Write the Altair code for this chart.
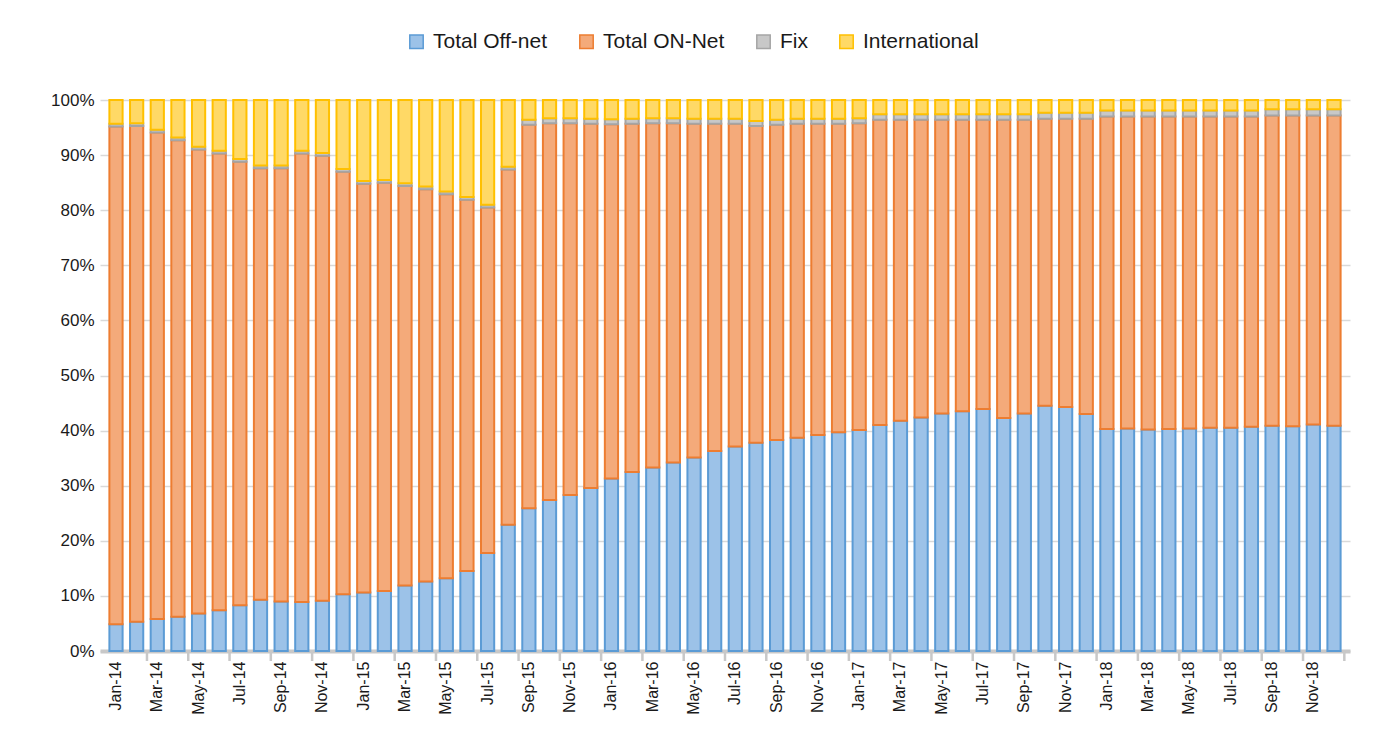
import altair as alt
import pandas as pd

month_names = ["Jan", "Feb", "Mar", "Apr", "May", "Jun", "Jul", "Aug", "Sep", "Oct", "Nov", "Dec"]
years = ["14", "15", "16", "17", "18"]
months = [f"{m}-{y}" for y in years for m in month_names]

series = ["Total Off-net", "Total ON-Net", "Fix", "International"]

off_net = [4.85, 5.3, 5.8, 6.2, 6.8, 7.4, 8.3, 9.3, 9.0, 8.9, 9.1, 10.3,
           10.6, 10.9, 11.9, 12.6, 13.2, 14.5, 17.8, 22.9, 25.9, 27.4, 28.3, 29.6,
           31.3, 32.5, 33.3, 34.2, 35.1, 36.3, 37.1, 37.8, 38.3, 38.7, 39.2, 39.7,
           40.1, 41.0, 41.8, 42.4, 43.1, 43.5, 43.9, 42.3, 43.1, 44.5, 44.3, 43.0,
           40.3, 40.4, 40.2, 40.3, 40.4, 40.5, 40.5, 40.7, 40.9, 40.8, 41.1, 40.9]

on_net = [90.35, 90.0, 88.3, 86.5, 84.2, 82.9, 80.5, 78.3, 78.6, 81.4, 80.8, 76.7,
          74.2, 74.1, 72.5, 71.2, 69.7, 67.4, 62.7, 64.5, 69.6, 68.4, 67.5, 66.1,
          64.3, 63.2, 62.5, 61.6, 60.6, 59.4, 58.6, 57.5, 57.2, 57.0, 56.5, 56.0,
          55.7, 55.4, 54.6, 54.0, 53.3, 52.9, 52.5, 54.1, 53.3, 52.1, 52.3, 53.6,
          56.7, 56.6, 56.8, 56.7, 56.6, 56.5, 56.5, 56.3, 56.3, 56.4, 56.1, 56.3]

fix = [0.5, 0.5, 0.5, 0.5, 0.5, 0.5, 0.5, 0.5, 0.5, 0.5, 0.5, 0.5,
       0.5, 0.5, 0.5, 0.5, 0.5, 0.5, 0.5, 0.5, 0.9, 0.9, 0.9, 0.9,
       0.9, 0.9, 0.9, 0.9, 0.9, 0.9, 0.9, 0.9, 0.9, 0.9, 0.9, 0.9,
       0.9, 1.0, 1.0, 1.0, 1.0, 1.0, 1.0, 1.0, 1.0, 1.1, 1.1, 1.1,
       1.1, 1.1, 1.1, 1.1, 1.1, 1.1, 1.1, 1.1, 1.1, 1.1, 1.1, 1.1]

international = [4.3, 4.2, 5.4, 6.8, 8.5, 9.2, 10.7, 11.9, 11.9, 9.2, 9.6, 12.5,
                 14.7, 14.5, 15.1, 15.7, 16.6, 17.6, 19.0, 12.1, 3.6, 3.3, 3.3, 3.4,
                 3.5, 3.4, 3.3, 3.3, 3.4, 3.4, 3.4, 3.8, 3.6, 3.4, 3.4, 3.4,
                 3.3, 2.6, 2.6, 2.6, 2.6, 2.6, 2.6, 2.6, 2.6, 2.3, 2.3, 2.3,
                 1.9, 1.9, 1.9, 1.9, 1.9, 1.9, 1.9, 1.9, 1.7, 1.7, 1.7, 1.7]

fills = ["#9CC2E8", "#F4AA7A", "#C8C8C8", "#FFD966"]
strokes = ["#5B9BD5", "#ED7D31", "#A5A5A5", "#FFC000"]

rows = []
for i, m in enumerate(months):
    for k, (s, vals) in enumerate(zip(series, [off_net, on_net, fix, international])):
        rows.append({"month": m, "series": s, "value": vals[i], "ord": k})
df = pd.DataFrame(rows)

tick_months = months[1::2]
tick_df = pd.DataFrame({"month": tick_months})

FONT = "Liberation Sans"
W, H = 1250, 551

legend = alt.Legend(
    orient="none", legendX=306, legendY=-69, direction="horizontal", columns=4,
    title=None, symbolType="square", symbolSize=180, symbolStrokeWidth=1.5,
    labelFontSize=21, labelFont=FONT, labelColor="#1a1a1a", labelOffset=6,
    columnPadding=28,
)

x_axis = alt.Axis(
    values=months[::2], labelAngle=-90, ticks=False, title=None,
    domainColor="#C8C8C8", domainWidth=4, labelFontSize=16, labelFont=FONT,
    labelColor="#1a1a1a", labelPadding=10, grid=False, labelOverlap=False,
)

bars = alt.Chart(df).mark_bar(
    width=alt.RelativeBandSize(0.64), strokeWidth=2
).encode(
    x=alt.X("month:N", sort=months,
            scale=alt.Scale(paddingInner=0, paddingOuter=0.275), axis=x_axis),
    y=alt.Y(
        "value:Q", stack="normalize",
        scale=alt.Scale(domain=[0, 1]),
        axis=alt.Axis(
            format=".0%", values=[i / 10 for i in range(11)], title=None,
            domain=False, ticks=False, labelFontSize=17, labelFont=FONT,
            labelColor="#1a1a1a", labelPadding=6, gridColor="#D9D9D9", gridWidth=1.5,
        ),
    ),
    color=alt.Color("series:N", sort=series,
                    scale=alt.Scale(domain=series, range=fills), legend=legend),
    stroke=alt.Stroke("series:N", sort=series,
                      scale=alt.Scale(domain=series, range=strokes), legend=legend),
    order=alt.Order("ord:Q"),
)

ticks = alt.Chart(tick_df).mark_rule(color="#C8C8C8", strokeWidth=2.5).encode(
    x=alt.X("month:N", sort=months, bandPosition=1, axis=x_axis),
    y=alt.value(H),
    y2=alt.value(H + 10),
)

chart = alt.layer(bars, ticks).properties(
    width=W, height=H,
    background="white",
    autosize=alt.AutoSizeParams(type="none"),
    padding={"left": 92, "top": 92, "right": 17, "bottom": 90},
).configure_view(strokeWidth=0)

chart.save("out.html", embed_options={"renderer": "svg", "actions": False})
